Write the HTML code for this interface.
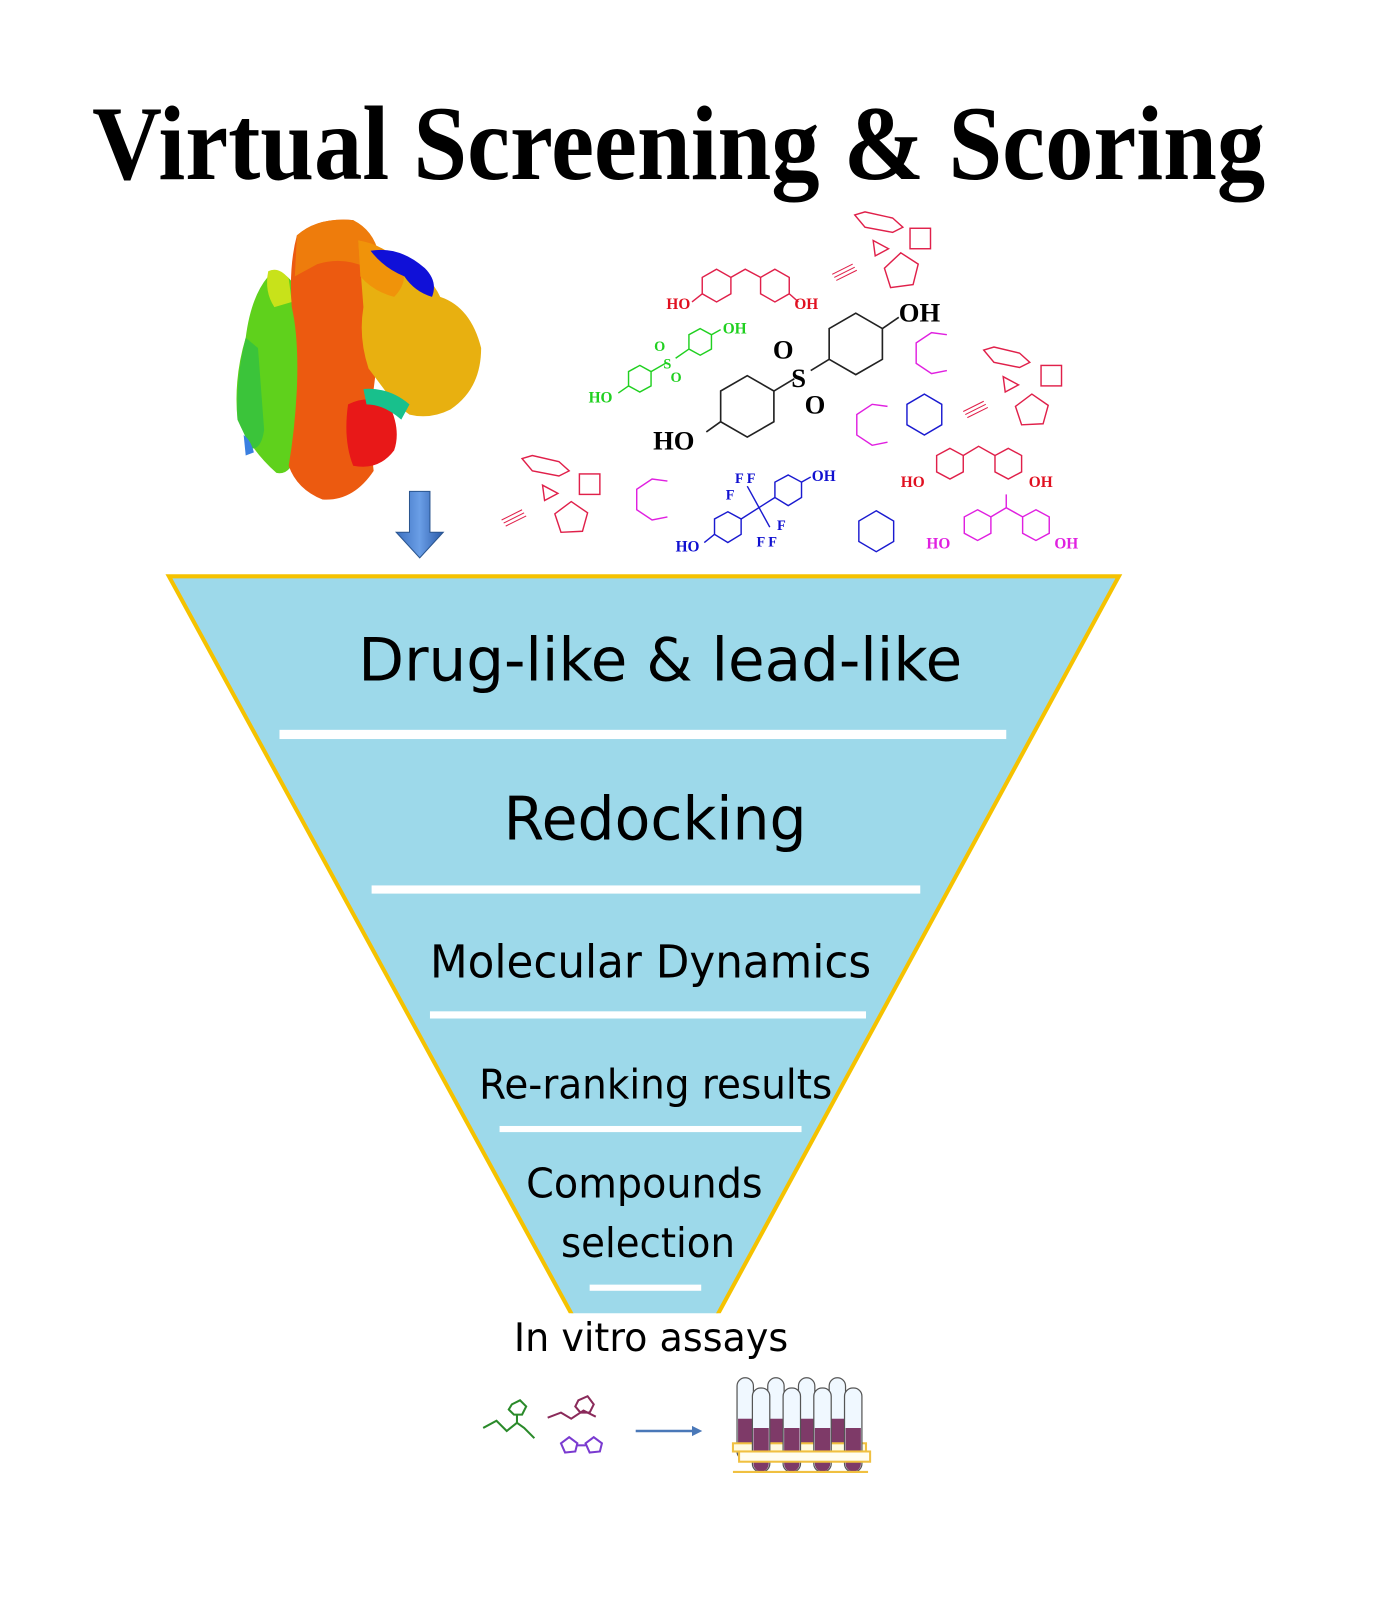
<!DOCTYPE html>
<html><head><meta charset="utf-8"><style>
html,body{margin:0;padding:0;background:#fff;}
svg{display:block;}
.t{font-family:"DejaVu Sans","Liberation Sans",sans-serif;fill:#000;}
.s{font-family:"Liberation Serif",serif;font-weight:bold;}
</style></head><body>
<svg width="1384" height="1604" viewBox="0 0 1352 1567" xmlns="http://www.w3.org/2000/svg">
<rect width="1352" height="1567" fill="#fff"/>
<text x="90" y="175" class="s" font-size="104" textLength="1146" lengthAdjust="spacingAndGlyphs" fill="#000">Virtual Screening &amp; Scoring</text>

<!-- protein -->
<g>
<path d="M262,270 Q275,262 285,275 L290,300 Q300,330 292,360 L290,440 Q285,465 270,462 Q245,440 232,410 Q228,370 240,330 Q245,290 262,270Z" fill="#5fd11c"/>
<path d="M240,330 Q230,370 232,410 L245,438 Q255,440 258,420 L252,340Z" fill="#3bc43a"/>
<path d="M262,265 Q272,260 282,272 L285,295 L268,300 Q258,285 262,265Z" fill="#c8e21a"/>
<path d="M290,230 Q310,212 345,215 Q360,225 365,250 L375,300 Q370,340 365,380 Q360,420 365,460 Q345,490 315,488 Q290,478 282,455 Q288,420 290,380 Q292,330 285,300 Q282,260 290,230Z" fill="#ec5a10"/>
<path d="M290,230 Q310,212 345,215 Q365,225 370,248 L360,262 Q335,250 310,258 L288,270Z" fill="#ee7c0c"/>
<path d="M350,235 Q375,240 395,258 Q420,268 430,290 Q460,300 470,340 Q470,380 440,400 Q420,410 400,405 Q385,395 375,380 L360,360 Q350,330 355,300 Z" fill="#e8b010"/>
<path d="M350,235 Q372,238 392,256 Q400,275 385,290 Q365,285 352,270Z" fill="#f0930a"/>
<path d="M362,245 Q390,240 415,262 Q428,275 422,290 Q405,285 395,270 Q375,262 362,245Z" fill="#1010d8"/>
<path d="M340,395 Q360,385 380,395 Q392,420 385,440 Q370,460 345,455 Q335,430 340,395Z" fill="#e81818"/>
<path d="M355,380 Q380,378 400,395 L392,410 Q375,395 358,395Z" fill="#18c08c"/>
<path d="M238,425 Q245,430 248,442 L240,445Z" fill="#3a7fe0"/>
</g>

<!-- blue arrow -->
<defs><linearGradient id="ba" x1="0" x2="1"><stop offset="0" stop-color="#3b6fc0"/><stop offset=".5" stop-color="#6a9ee6"/><stop offset="1" stop-color="#2a5aa8"/></linearGradient></defs>
<path d="M400,480 L420,480 L420,520 L433,520 L410,545 L387,520 L400,520Z" fill="url(#ba)" stroke="#2a558f" stroke-width="1"/>

<!-- molecules -->
<g fill="none" stroke-width="1.4">
<!-- red BPF top -->
<g stroke="#e0204a">
<polygon points="700,263 714,271 714,287 700,295 686,287 686,271"/>
<polygon points="757,263 771,271 771,287 757,295 743,287 743,271"/>
<polyline points="714,271 728,263 743,271"/>
<line x1="686" y1="287" x2="676" y2="295"/><line x1="771" y1="287" x2="780" y2="295"/>
</g>
<!-- green -->
<g stroke="#20d020">
<polygon points="625,357 636,363 636,377 625,383 614,377 614,363"/>
<polygon points="684,321 695,327 695,341 684,347 673,341 673,327"/>
<line x1="636" y1="363" x2="650" y2="355"/><line x1="660" y1="350" x2="673" y2="341"/>
<line x1="695" y1="327" x2="704" y2="322"/><line x1="614" y1="377" x2="604" y2="384"/>
</g>
<!-- black -->
<g stroke="#222" stroke-width="1.6">
<polygon points="730,367 756,382 756,412 730,427 704,412 704,382"/>
<polygon points="836,306 862,321 862,351 836,366 810,351 810,321"/>
<line x1="756" y1="382" x2="776" y2="370"/><line x1="792" y1="362" x2="810" y2="351"/>
<line x1="862" y1="321" x2="878" y2="310"/><line x1="704" y1="412" x2="690" y2="422"/>
</g>
<!-- blue -->
<g stroke="#1a1ad0">
<polygon points="711,500 724,507 724,522 711,530 698,522 698,507"/>
<polygon points="770,464 783,471 783,486 770,494 757,486 757,471"/>
<line x1="724" y1="507" x2="757" y2="486"/><line x1="730" y1="475" x2="752" y2="515"/>
<line x1="698" y1="522" x2="688" y2="530"/><line x1="783" y1="471" x2="792" y2="466"/>
<polygon points="903,385 920,395 920,415 903,425 886,415 886,395"/>
<polygon points="856,499 873,509 873,529 856,539 839,529 839,509"/>
</g>
<!-- red lower right BPF -->
<g stroke="#e0204a">
<polygon points="928,438 941,445 941,461 928,468 915,461 915,445"/>
<polygon points="985,438 998,445 998,461 985,468 972,461 972,445"/>
<polyline points="941,445 956,436 972,445"/>
</g>
<!-- magenta BPA -->
<g stroke="#e020e0">
<polygon points="955,498 968,505 968,521 955,528 942,521 942,505"/>
<polygon points="1012,498 1025,505 1025,521 1012,528 999,521 999,505"/>
<polyline points="968,505 983,496 999,505"/><line x1="983" y1="496" x2="983" y2="483"/>
<polyline points="925,327 910,325 895,335 895,355 910,365 925,362"/>
<polyline points="867,397 852,395 837,405 837,425 852,435 867,432"/>
<polyline points="652,470 637,468 622,478 622,498 637,508 652,505"/>
</g>
<!-- red fragments -->
<g stroke="#e0204a">
<polygon points="835,210 845,207 872,213 882,222 872,227 845,222"/>
<rect x="889" y="223" width="20" height="20"/>
<polygon points="853,235 868,243 855,250"/>
<polygon points="880,247 897,258 892,278 870,281 864,262"/>
<g stroke-width="1"><line x1="813" y1="268" x2="833" y2="258"/><line x1="815" y1="271" x2="835" y2="261"/><line x1="817" y1="274" x2="837" y2="264"/></g>
<polygon points="961,342 971,339 996,345 1006,354 996,359 971,354"/>
<rect x="1017" y="357" width="20" height="20"/>
<polygon points="980,368 995,376 982,383"/>
<polygon points="1008,385 1024,396 1019,414 998,415 992,397"/>
<g stroke-width="1"><line x1="941" y1="402" x2="961" y2="392"/><line x1="943" y1="405" x2="963" y2="395"/><line x1="945" y1="408" x2="965" y2="398"/></g>
<polygon points="510,448 520,445 546,451 556,460 546,465 520,460"/>
<rect x="566" y="463" width="20" height="20"/>
<polygon points="530,474 545,482 532,489"/>
<polygon points="558,490 574,501 569,519 548,520 542,502"/>
<g stroke-width="1"><line x1="490" y1="508" x2="510" y2="498"/><line x1="492" y1="511" x2="512" y2="501"/><line x1="494" y1="514" x2="514" y2="504"/></g>
</g>
</g>
<g class="s">
<text x="651" y="302" font-size="15" fill="#e01020">HO</text><text x="776" y="302" font-size="15" fill="#e01020">OH</text>
<text x="575" y="393" font-size="15" fill="#20d020">HO</text><text x="706" y="326" font-size="15" fill="#20d020">OH</text>
<text x="639" y="343" font-size="14" fill="#20d020">O</text><text x="648" y="360" font-size="14" fill="#20d020">S</text><text x="655" y="373" font-size="14" fill="#20d020">O</text>
<text x="878" y="314" font-size="26" fill="#000">OH</text><text x="638" y="439" font-size="26" fill="#000">HO</text>
<text x="755" y="350" font-size="26" fill="#000">O</text><text x="773" y="378" font-size="26" fill="#000">S</text><text x="786" y="404" font-size="26" fill="#000">O</text>
<text x="660" y="539" font-size="15" fill="#1010d0">HO</text><text x="793" y="470" font-size="15" fill="#1010d0">OH</text>
<text x="718" y="472" font-size="14" fill="#1010d0">F F</text><text x="709" y="488" font-size="14" fill="#1010d0">F</text>
<text x="759" y="518" font-size="14" fill="#1010d0">F</text><text x="739" y="534" font-size="14" fill="#1010d0">F F</text>
<text x="880" y="476" font-size="15" fill="#e01020">HO</text><text x="1005" y="476" font-size="15" fill="#e01020">OH</text>
<text x="905" y="536" font-size="15" fill="#e020e0">HO</text><text x="1030" y="536" font-size="15" fill="#e020e0">OH</text>
</g>

<!-- funnel -->
<clipPath id="fc"><rect x="0" y="0" width="1352" height="1283"/></clipPath>
<polygon points="165,563 1093,563 630,1415" fill="#9dd9ea" stroke="#f5c200" stroke-width="4" clip-path="url(#fc)"/>
<g fill="#fff">
<rect x="273" y="713" width="710" height="9"/>
<rect x="363" y="865" width="536" height="8"/>
<rect x="420" y="988" width="426" height="7"/>
<rect x="488" y="1100" width="295" height="6"/>
<rect x="576" y="1255" width="109" height="6"/>
</g>
<g class="t">
<text x="350" y="665" font-size="58" textLength="590" lengthAdjust="spacingAndGlyphs">Drug-like &amp; lead-like</text>
<text x="492" y="820" font-size="58" textLength="296" lengthAdjust="spacingAndGlyphs">Redocking</text>
<text x="420" y="955" font-size="44" textLength="431" lengthAdjust="spacingAndGlyphs">Molecular Dynamics</text>
<text x="468" y="1073" font-size="40" textLength="345" lengthAdjust="spacingAndGlyphs">Re-ranking results</text>
<text x="514" y="1170" font-size="40" textLength="231" lengthAdjust="spacingAndGlyphs">Compounds</text>
<text x="548" y="1228" font-size="40" textLength="170" lengthAdjust="spacingAndGlyphs">selection</text>
<text x="502" y="1320" font-size="38" textLength="268" lengthAdjust="spacingAndGlyphs">In vitro assays</text>
</g>

<!-- small molecules -->
<g fill="none" stroke-width="2">
<g stroke="#2a8a2a"><polyline points="472,1395 485,1388 495,1398 505,1390 512,1395 522,1405"/><polygon points="500,1372 508,1368 514,1374 510,1382 502,1382 497,1377"/><line x1="505" y1="1382" x2="505" y2="1390"/></g>
<g stroke="#8a2a5a"><polyline points="535,1385 548,1380 558,1386 570,1378 582,1384"/><polygon points="565,1368 574,1364 580,1372 576,1380 567,1380 562,1374"/></g>
<g stroke="#7a3ad0"><polygon points="548,1410 556,1404 564,1410 562,1418 552,1419"/><polygon points="572,1410 580,1404 588,1410 586,1418 576,1419"/><line x1="564" y1="1412" x2="572" y2="1412"/></g>
</g>
<line x1="621" y1="1398" x2="678" y2="1398" stroke="#4a78b8" stroke-width="2.5"/>
<polygon points="686,1398 676,1393 676,1403" fill="#4a78b8"/>

<!-- test tubes -->
<g stroke="#555" stroke-width="1.2">
<g fill="#f0f8ff">
<rect x="720" y="1346" width="16" height="80" rx="8"/><rect x="750" y="1346" width="16" height="80" rx="8"/><rect x="780" y="1346" width="16" height="80" rx="8"/><rect x="810" y="1346" width="16" height="80" rx="8"/>
</g>
<g fill="#7e3a68" stroke="none">
<rect x="721" y="1386" width="14" height="40"/><rect x="751" y="1386" width="14" height="40"/><rect x="781" y="1386" width="14" height="40"/><rect x="811" y="1386" width="14" height="40"/>
</g>
<rect x="716" y="1410" width="130" height="8" fill="#fffbe0" stroke="#f0c040" stroke-width="2"/>
<g fill="#f0f8ff">
<rect x="735" y="1356" width="17" height="82" rx="8"/><rect x="765" y="1356" width="17" height="82" rx="8"/><rect x="795" y="1356" width="17" height="82" rx="8"/><rect x="825" y="1356" width="17" height="82" rx="8"/>
</g>
<g fill="#7e3a68" stroke="none">
<path d="M736,1395 h15 v35 a7.5,7.5 0 0 1 -15,0Z"/><path d="M766,1395 h15 v35 a7.5,7.5 0 0 1 -15,0Z"/><path d="M796,1395 h15 v35 a7.5,7.5 0 0 1 -15,0Z"/><path d="M826,1395 h15 v35 a7.5,7.5 0 0 1 -15,0Z"/>
</g>
<rect x="722" y="1418" width="128" height="10" fill="#fffdf0" stroke="#f0c040" stroke-width="2"/>
<line x1="716" y1="1438" x2="848" y2="1438" stroke="#f0c040" stroke-width="2"/>
</g>
</svg>
</body></html>
